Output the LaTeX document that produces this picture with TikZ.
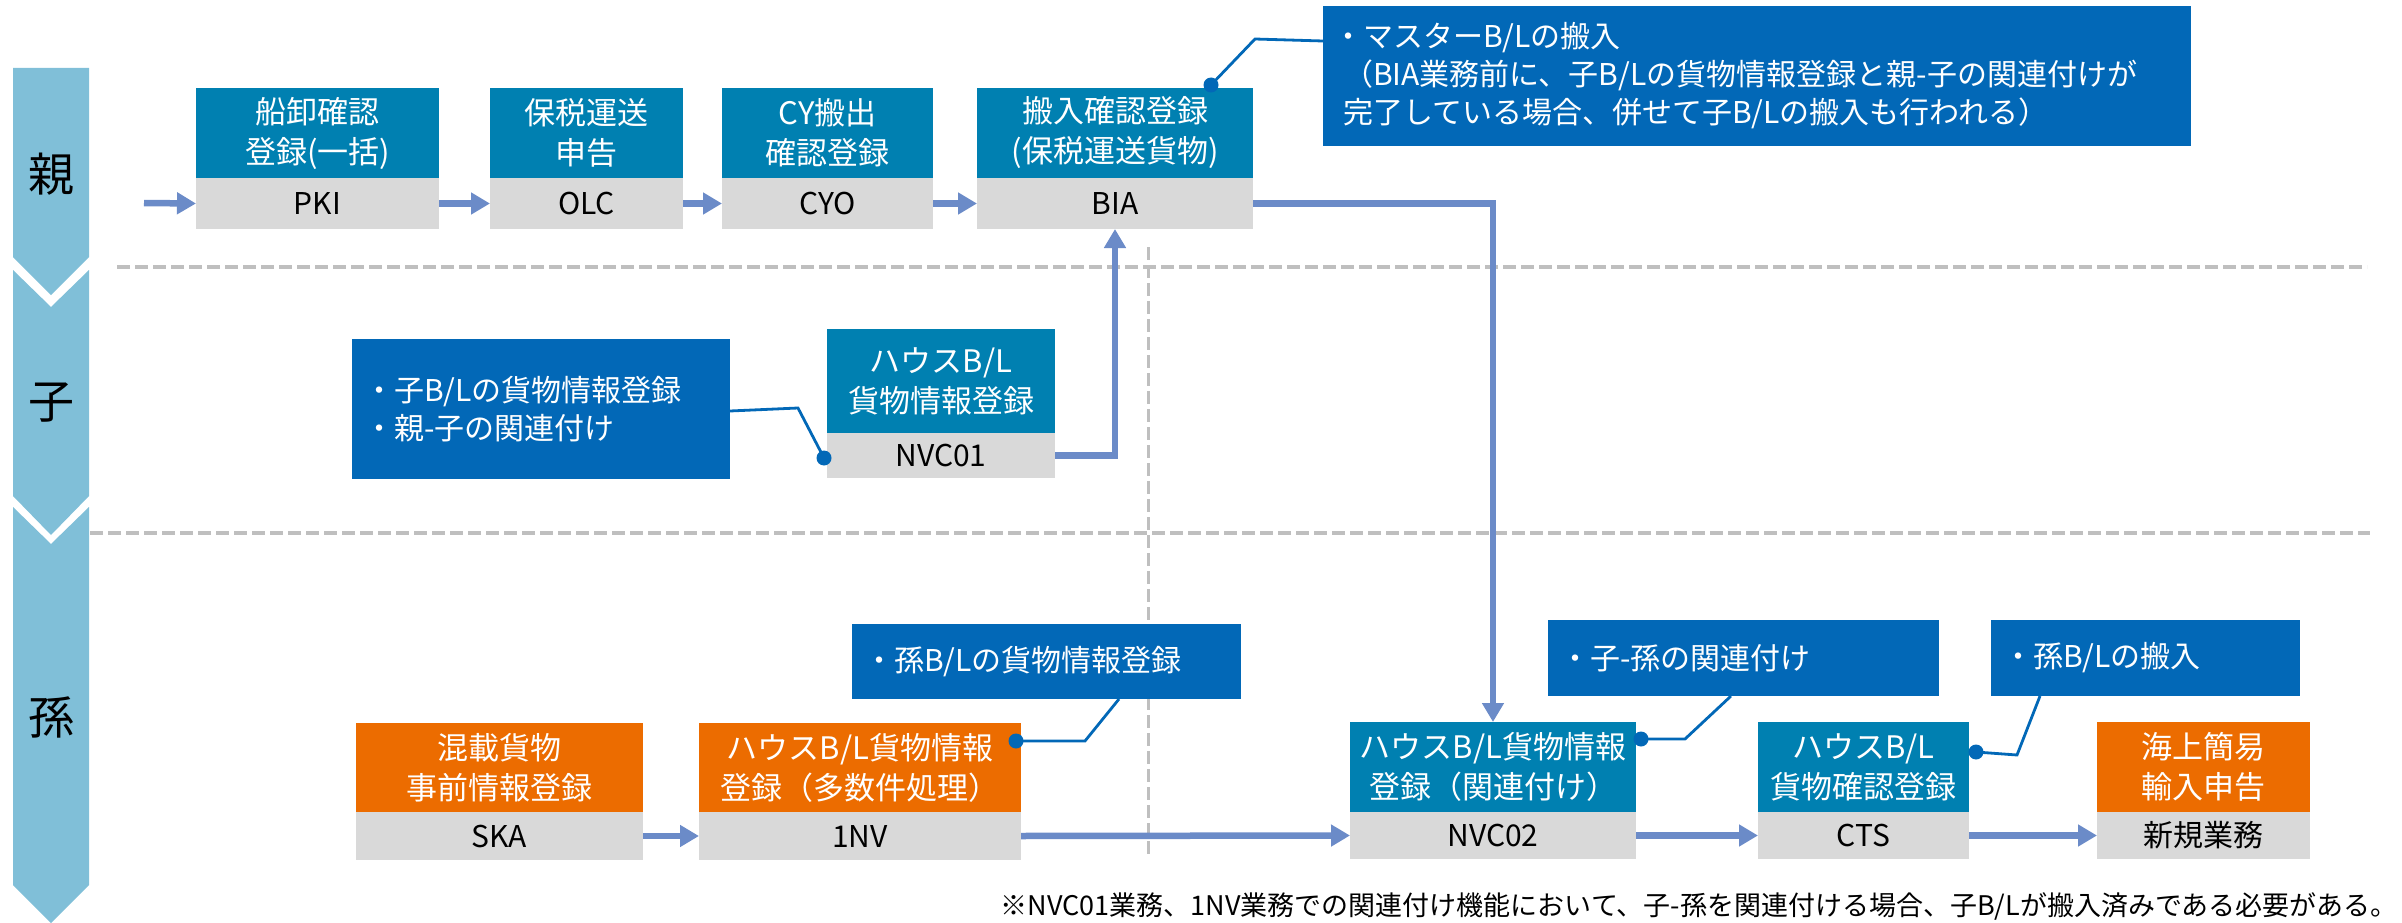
\documentclass[tikz,border=0pt]{standalone}
\usepackage{fontspec}
\setmainfont{Noto Sans CJK JP}
\usetikzlibrary{arrows.meta}
\definecolor{hdblue}{RGB}{0,128,177}
\definecolor{callblue}{RGB}{2,104,183}
\definecolor{orng}{RGB}{236,108,0}
\definecolor{codegray}{RGB}{217,217,217}
\definecolor{barblue}{RGB}{128,191,216}
\definecolor{arrowblue}{RGB}{107,139,200}
\definecolor{dashgray}{RGB}{191,191,191}
\newcommand\procbox[9]{%
  \node[hd, fill=#7, minimum width={#3-#2}, minimum height={#5-#4}] (#1h) at (#2,#4) {#8};
  \node[cd, minimum width={#3-#2}, minimum height={#6-#5}] (#1c) at (#2,#5) {#9};}
\begin{document}
\begin{tikzpicture}[x=1pt,y=-1pt,
  hd/.style={inner sep=0pt, outer sep=0pt, text=white, align=center, font=\fontsize{31}{40}\selectfont, anchor=north west},
  cd/.style={fill=codegray, inner sep=0pt, outer sep=0pt, text=black, font=\fontsize{30}{36}\selectfont, anchor=north west},
  callout/.style={fill=callblue, inner ysep=0pt, outer sep=0pt, text=white, align=left, font=\fontsize{30}{38}\selectfont, anchor=north west},
  flow/.style={draw=arrowblue, line width=6.5pt, -{Triangle[length=19pt,width=21pt]}},
  conn/.style={draw=callblue, line width=2.8pt},
  dotc/.style={fill=callblue},
  sep/.style={draw=dashgray, line width=4pt, dash pattern=on 13pt off 5pt},
  vsep/.style={draw=dashgray, line width=3pt, dash pattern=on 13pt off 5pt},
  lane/.style={fill=barblue},
  lanelabel/.style={font=\fontsize{46}{46}\selectfont, text=black}
]
\useasboundingbox (0,0) rectangle (2402,923);
% lane bar
\fill[lane] (13,68) -- (89,68) -- (89,257) -- (51,295) -- (13,257) -- cycle;
\fill[lane] (13,270) -- (51,307) -- (89,270) -- (89,496) -- (51,535) -- (13,496) -- cycle;
\fill[lane] (13,507) -- (51,544) -- (89,507) -- (89,885) -- (51,923) -- (13,885) -- cycle;
\node[lanelabel] (oya) at (51,174) {親};
\node[lanelabel] (ko) at (51,403) {子};
\node[lanelabel] (mago) at (51,717) {孫};
% separators
\draw[sep] (117,267) -- (2367,267);
\draw[sep] (90,533) -- (2370,533);
\draw[vsep] (1148,247) -- (1148,858);
% process boxes
\procbox{pki}{196}{439}{88}{178}{229}{hdblue}{船卸確認\\登録(一括)}{PKI}
\procbox{olc}{490}{683}{88}{178}{229}{hdblue}{保税運送\\申告}{OLC}
\procbox{cyo}{722}{933}{88}{178}{229}{hdblue}{CY搬出\\確認登録}{CYO}
\procbox{bia}{977}{1253}{88}{178}{229}{hdblue}{搬入確認登録\\(保税運送貨物)}{BIA}
\procbox{nvca}{827}{1055}{329}{433}{478}{hdblue}{ハウスB/L\\貨物情報登録}{NVC01}
\procbox{ska}{356}{643}{723}{812}{860}{orng}{混載貨物\\事前情報登録}{SKA}
\procbox{onenv}{699}{1021}{723}{812}{860}{orng}{ハウスB/L貨物情報\\登録（多数件処理）}{1NV}
\procbox{nvcb}{1350}{1636}{722}{812}{859}{hdblue}{ハウスB/L貨物情報\\登録（関連付け）}{NVC02}
\procbox{cts}{1758}{1969}{722}{812}{859}{hdblue}{ハウスB/L\\貨物確認登録}{CTS}
\procbox{new}{2097}{2310}{722}{812}{859}{orng}{海上簡易\\輸入申告}{新規業務}
% callouts
\node[callout, inner xsep=20pt, text width=828pt, minimum width=868pt, minimum height=140pt] (ca) at (1323,6)
  {\hspace*{-10pt}・マスターB/Lの搬入\\（BIA業務前に、子B/Lの貨物情報登録と親-子の関連付けが\\完了している場合、併せて子B/Lの搬入も行われる）};
\node[callout, inner xsep=12pt, text width=354pt, minimum width=378pt, minimum height=140pt] (cb) at (352,339)
  {・子B/Lの貨物情報登録\\・親-子の関連付け};
\node[callout, inner xsep=12pt, text width=365pt, minimum width=389pt, minimum height=75pt] (cc) at (852,624)
  {・孫B/Lの貨物情報登録};
\node[callout, inner xsep=12pt, text width=367pt, minimum width=391pt, minimum height=76pt] (cd) at (1548,620)
  {・子-孫の関連付け};
\node[callout, inner xsep=12pt, text width=285pt, minimum width=309pt, minimum height=76pt] (ce) at (1991,620)
  {・孫B/Lの搬入};
% flow arrows
\coordinate (in) at (144,203);
\draw[flow] (in) -- (pkic.west);
\draw[flow] (pkic.east) -- (olcc.west);
\draw[flow] (olcc.east) -- (cyoc.west);
\draw[flow] (cyoc.east) -- (biac.west);
\draw[flow] (biac.east) -| (nvcbh.north);
\draw[flow] (nvcac.east) -| (biac.south);
\draw[flow] (skac.east) -- (onenvc.west);
\draw[flow] (onenvc.east) -- (nvcbc.west);
\draw[flow] (nvcbc.east) -- (ctsc.west);
\draw[flow] (ctsc.east) -- (newc.west);
% callout connectors
\coordinate (ca1) at (1323,41); \coordinate (ca2) at (1255,39); \coordinate (da) at (1211,85);
\coordinate (cb1) at (730,411); \coordinate (cb2) at (798,408); \coordinate (db) at (824,458);
\coordinate (cc1) at (1119,699); \coordinate (cc2) at (1085,741); \coordinate (dc) at (1016,741);
\coordinate (cd1) at (1731,696); \coordinate (cd2) at (1685,739); \coordinate (dd) at (1641,739);
\coordinate (ce1) at (2040,696); \coordinate (ce2) at (2017,755); \coordinate (de) at (1976,752);
\draw[conn] (ca1) -- (ca2) -- (da); \fill[dotc] (da) circle (7.5pt);
\draw[conn] (cb1) -- (cb2) -- (db); \fill[dotc] (db) circle (7.5pt);
\draw[conn] (cc1) -- (cc2) -- (dc); \fill[dotc] (dc) circle (7.5pt);
\draw[conn] (cd1) -- (cd2) -- (dd); \fill[dotc] (dd) circle (7.5pt);
\draw[conn] (ce1) -- (ce2) -- (de); \fill[dotc] (de) circle (7.5pt);
% footnote
\node[anchor=east, inner sep=0pt, font=\fontsize{27}{30}\selectfont] (note) at (2398,906)
  {※NVC01業務、1NV業務での関連付け機能において、子-孫を関連付ける場合、子B/Lが搬入済みである必要がある。};
\end{tikzpicture}
\end{document}
